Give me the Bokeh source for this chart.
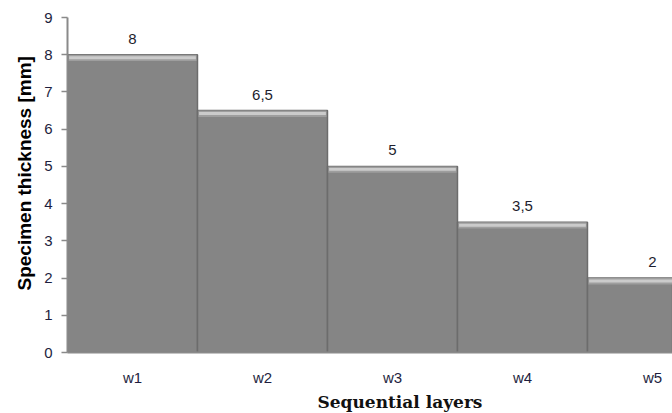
from bokeh.plotting import figure
from bokeh.models import ColumnDataSource, Range1d, FixedTicker, Title
from bokeh.core.properties import value
from bokeh.embed import file_html
from bokeh.resources import INLINE

layers = ["w1", "w2", "w3", "w4", "w5"]
thickness = [8, 6.5, 5, 3.5, 2]
value_labels = ["8", "6,5", "5", "3,5", "2"]
y_ticks = [0, 1, 2, 3, 4, 5, 6, 7, 8, 9]

xs = list(range(len(layers)))
bevel_outer = 0.17
bevel_inner = 0.12

src = ColumnDataSource(dict(
    x=xs, top=thickness, label=value_labels,
    b1=[t - bevel_outer for t in thickness],
    b2=[t - bevel_inner for t in thickness],
    b3=[t - 0.04 for t in thickness],
))

SANS = "Arial"

p = figure(width=672, height=413,
           x_range=Range1d(-0.5, 4.154), y_range=Range1d(0, 9),
           output_backend="svg", toolbar_location=None,
           min_border_left=67, min_border_right=0, min_border_top=17, min_border_bottom=61)
p.outline_line_color = None
p.grid.grid_line_color = None
p.background_fill_color = "white"
p.border_fill_color = "white"

p.vbar(x="x", top="top", bottom=0, width=1, source=src,
       fill_color="#858585", line_color="#6c6c6c", line_width=1.5)
p.vbar(x="x", top="top", bottom="b1", width=0.985, source=src,
       fill_color="#9e9e9e", line_color=None)
p.vbar(x="x", top="b3", bottom="b2", width=0.975, source=src,
       fill_color="#cbcbcb", line_color=None)

p.text(x="x", y="top", text="label", source=src, y_offset=-11,
       text_align="center", text_baseline="bottom",
       text_font=value(SANS), text_font_size="15px", text_color="#1e1e2e")

p.yaxis.ticker = FixedTicker(ticks=y_ticks)
p.yaxis.axis_line_color = "#8a8a8a"
p.yaxis.axis_line_width = 2
p.yaxis.major_tick_line_color = "#8a8a8a"
p.yaxis.major_tick_line_width = 1.5
p.yaxis.major_tick_out = 6
p.yaxis.major_tick_in = 0
p.yaxis.minor_tick_line_color = None
p.yaxis.major_label_standoff = 9
p.yaxis.major_label_text_font = SANS
p.yaxis.major_label_text_font_size = "15px"
p.yaxis.major_label_text_color = "#1e1e3e"

p.xaxis.ticker = FixedTicker(ticks=xs)
p.xaxis.major_label_overrides = {i: name for i, name in zip(xs, layers)}
p.xaxis.axis_line_color = "#8a8a8a"
p.xaxis.axis_line_width = 2
p.xaxis.major_tick_line_color = None
p.xaxis.minor_tick_line_color = None
p.xaxis.major_label_standoff = 10
p.xaxis.major_label_text_font = SANS
p.xaxis.major_label_text_font_size = "15px"
p.xaxis.major_label_text_color = "#1e1e3e"

ytitle = Title(text="Specimen thickness [mm]", align="left", offset=62,
               text_font=SANS, text_font_size="19px", text_font_style="bold",
               text_color="#000000", standoff=13)
p.add_layout(ytitle, "left")
xtitle = Title(text="Sequential layers", align="left", offset=250,
               text_font="DejaVu Serif", text_font_size="17px", text_font_style="bold",
               text_color="#111111", standoff=3)
p.add_layout(xtitle, "below")

open("out.html", "w").write(file_html(p, INLINE))
